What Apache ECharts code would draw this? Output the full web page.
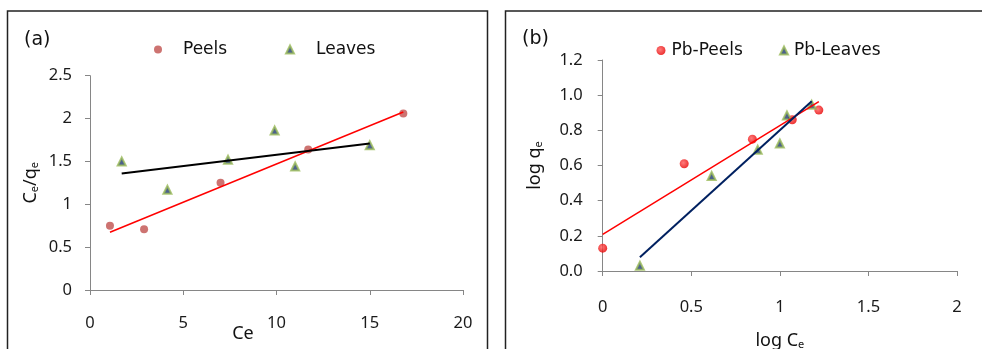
<!DOCTYPE html>
<html>
<head>
<meta charset="utf-8">
<script src="https://cdn.jsdelivr.net/npm/echarts@6/dist/echarts.min.js"></script>
<style>
html,body{margin:0;padding:0;background:#fff;}
#chart{width:982px;height:349px;}
</style>
</head>
<body>
<div id="chart"></div>
<script>
// Panel (a): Ce/qe vs Ce
const peelsX = [1.07, 2.9, 7.0, 11.7, 16.8];
const peelsY = [0.75, 0.71, 1.25, 1.64, 2.06];
const leavesX = [1.7, 4.15, 7.4, 9.9, 11.0, 15.0];
const leavesY = [1.5, 1.17, 1.52, 1.86, 1.44, 1.69];
// Panel (b): log qe vs log Ce
const pbPeelsX = [0, 0.46, 0.845, 1.07, 1.22];
const pbPeelsY = [0.13, 0.61, 0.75, 0.86, 0.915];
const pbLeavesX = [0.21, 0.615, 0.875, 1.0, 1.04, 1.18];
const pbLeavesY = [0.03, 0.54, 0.69, 0.725, 0.885, 0.945];

const seriesNamesA = ['Peels', 'Leaves'];
const seriesNamesB = ['Pb-Peels', 'Pb-Leaves'];

function pairs(xs, ys) { return xs.map((x, i) => [x, ys[i]]); }
// least-squares trendline spanning the data's x range
function trend(xs, ys) {
  const n = xs.length;
  const mx = xs.reduce((a, b) => a + b, 0) / n;
  const my = ys.reduce((a, b) => a + b, 0) / n;
  let sxy = 0, sxx = 0;
  for (let i = 0; i < n; i++) { sxy += (xs[i] - mx) * (ys[i] - my); sxx += (xs[i] - mx) * (xs[i] - mx); }
  const k = sxy / sxx, b = my - k * mx;
  const x0 = Math.min(...xs), x1 = Math.max(...xs);
  return [[x0, k * x0 + b], [x1, k * x1 + b]];
}

const tickFont = { fontFamily: 'Noto Sans', fontSize: 16.5, color: '#1a1a1a' };
const axisLineStyle = { lineStyle: { color: '#868686', width: 1 } };
function legendFont(padLeft) {
  return { fontFamily: 'DejaVu Sans', fontSize: 17, color: '#111', padding: [0, 0, 0, padLeft] };
}

const triStyle = { color: '#1F3A70', borderColor: '#9BBB59', borderWidth: 2 };
const redBall = {
  color: { type: 'radial', x: 0.4, y: 0.4, r: 0.6,
    colorStops: [{ offset: 0, color: '#FF5A5A' }, { offset: 1, color: '#E80000' }] }
};
const subRich = {
  n: { fontFamily: 'Noto Sans', fontSize: 18, color: '#111' },
  s: { fontFamily: 'Noto Sans', fontSize: 11, color: '#111', verticalAlign: 'bottom', padding: [8, 0, 0, 0] }
};

const chart = echarts.init(document.getElementById('chart'), null, { renderer: 'canvas' });
chart.setOption({
  backgroundColor: '#fff',
  animation: false,
  grid: [
    { left: 90, right: 519, top: 75.7, bottom: 59, outerBoundsMode: 'none', containLabel: false },
    { left: 602.7, right: 25, top: 60, bottom: 78, outerBoundsMode: 'none', containLabel: false }
  ],
  legend: [
    { data: [seriesNamesA[0]], left: 154, top: 41, padding: 0, itemWidth: 8, itemHeight: 8, itemGap: 0, textStyle: legendFont(16) },
    { data: [seriesNamesA[1]], left: 285, top: 41, padding: 0, itemWidth: 8, itemHeight: 8, itemGap: 0, textStyle: legendFont(17) },
    { data: [seriesNamesB[0]], left: 656.5, top: 42, padding: 0, itemWidth: 9, itemHeight: 9, itemGap: 0, textStyle: legendFont(1) },
    { data: [seriesNamesB[1]], left: 779, top: 42, padding: 0, itemWidth: 8, itemHeight: 8, itemGap: 0, textStyle: legendFont(1) }
  ],
  xAxis: [
    {
      gridIndex: 0, type: 'value', min: 0, max: 20, interval: 5,
      axisLine: { show: true, onZero: false, ...axisLineStyle },
      axisTick: { show: true, length: 5, inside: false, lineStyle: { color: '#868686' } },
      axisLabel: { ...tickFont, margin: 25 },
      splitLine: { show: false },
      name: 'Ce', nameLocation: 'middle', nameGap: 35, nameMoveOverlap: false,
      nameTextStyle: { fontFamily: 'Noto Sans', fontSize: 18, color: '#111', padding: [0, 67, 0, 0] }
    },
    {
      gridIndex: 1, type: 'value', min: 0, max: 2, interval: 0.5,
      axisLine: { show: true, onZero: false, ...axisLineStyle },
      axisTick: { show: true, length: 5, lineStyle: { color: '#868686' } },
      axisLabel: { ...tickFont, margin: 28 },
      splitLine: { show: false },
      name: '{n|log C}{s|e}', nameLocation: 'middle', nameGap: 60, nameMoveOverlap: false,
      nameTextStyle: { rich: subRich }
    }
  ],
  yAxis: [
    {
      gridIndex: 0, type: 'value', min: 0, max: 2.5, interval: 0.5,
      axisLine: { show: true, onZero: false, ...axisLineStyle },
      axisTick: { show: true, length: 5, lineStyle: { color: '#868686' } },
      axisLabel: { ...tickFont, margin: 18 },
      splitLine: { show: false },
      name: '{n|C}{s|e}{n|/q}{s|e}', nameLocation: 'middle', nameGap: 50, nameMoveOverlap: false,
      nameTextStyle: { rich: subRich }
    },
    {
      gridIndex: 1, type: 'value', min: 0, max: 1.2, interval: 0.2,
      axisLine: { show: true, onZero: false, ...axisLineStyle },
      axisTick: { show: true, length: 5, lineStyle: { color: '#868686' } },
      axisLabel: { ...tickFont, margin: 20, formatter: v => v.toFixed(1) },
      splitLine: { show: false },
      name: '{n|log q}{s|e}', nameLocation: 'middle', nameGap: 58, nameMoveOverlap: false,
      nameTextStyle: { rich: subRich }
    }
  ],
  series: [
    { name: seriesNamesA[0], type: 'scatter', xAxisIndex: 0, yAxisIndex: 0, symbol: 'circle', symbolSize: 8,
      itemStyle: { color: '#C0504D' }, data: pairs(peelsX, peelsY), z: 3 },
    { name: seriesNamesA[1], type: 'scatter', xAxisIndex: 0, yAxisIndex: 0, symbol: 'triangle', symbolSize: 8,
      itemStyle: triStyle, data: pairs(leavesX, leavesY), z: 3 },
    { name: 'Peels trend', type: 'line', xAxisIndex: 0, yAxisIndex: 0, showSymbol: false, symbol: 'none',
      lineStyle: { color: '#FF0000', width: 1.5 }, data: trend(peelsX, peelsY), z: 4 },
    { name: 'Leaves trend', type: 'line', xAxisIndex: 0, yAxisIndex: 0, showSymbol: false, symbol: 'none',
      lineStyle: { color: '#000000', width: 2 }, data: trend(leavesX, leavesY), z: 4 },

    { name: seriesNamesB[0], type: 'scatter', xAxisIndex: 1, yAxisIndex: 1, symbol: 'circle', symbolSize: 9,
      itemStyle: redBall, data: pairs(pbPeelsX, pbPeelsY), z: 3 },
    { name: seriesNamesB[1], type: 'scatter', xAxisIndex: 1, yAxisIndex: 1, symbol: 'triangle', symbolSize: 8,
      itemStyle: triStyle, data: pairs(pbLeavesX, pbLeavesY), z: 3 },
    { name: 'Pb-Peels trend', type: 'line', xAxisIndex: 1, yAxisIndex: 1, showSymbol: false, symbol: 'none',
      lineStyle: { color: '#FF0000', width: 1.5 }, data: trend(pbPeelsX, pbPeelsY), z: 4 },
    { name: 'Pb-Leaves trend', type: 'line', xAxisIndex: 1, yAxisIndex: 1, showSymbol: false, symbol: 'none',
      lineStyle: { color: '#002060', width: 2 }, data: trend(pbLeavesX, pbLeavesY), z: 4 }
  ],
  graphic: [
    { type: 'rect', shape: { x: 7.5, y: 11, width: 480, height: 360 }, style: { fill: 'none', stroke: '#222', lineWidth: 1.5 }, silent: true },
    { type: 'rect', shape: { x: 505.5, y: 11, width: 500, height: 360 }, style: { fill: 'none', stroke: '#222', lineWidth: 1.5 }, silent: true },
    { type: 'text', left: 24, top: 31, style: { text: '(a)', font: '19px "DejaVu Sans"', fill: '#111' } },
    { type: 'text', left: 522, top: 30, style: { text: '(b)', font: '19px "DejaVu Sans"', fill: '#111' } }
  ]
});
</script>
</body>
</html>
